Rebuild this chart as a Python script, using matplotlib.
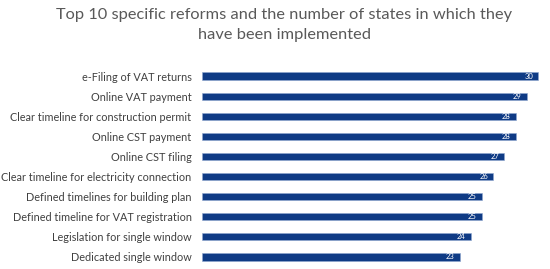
import matplotlib
matplotlib.use("Agg")
import matplotlib.pyplot as plt

categories = [
    "e-Filing of VAT returns",
    "Online VAT payment",
    "Clear timeline for construction permit",
    "Online CST payment",
    "Online CST filing",
    "Clear timeline for electricity connection",
    "Defined timelines for building plan",
    "Defined timeline for VAT registration",
    "Legislation for single window",
    "Dedicated single window",
]
values = [30, 29, 28, 28, 27, 26, 25, 25, 24, 23]
title = "Top 10 specific reforms and the number of states in which they\nhave been implemented"

W, H = 550, 269
fig = plt.figure(figsize=(W / 100, H / 100), dpi=100)
ax = fig.add_axes([202 / W, 2 / H, (W - 202) / W, (269 - 66 - 2) / H])

n = len(categories)
ypos = list(range(n))[::-1]
bar_color = "#0F3B85"
ax.barh(ypos, values, height=0.36, color=bar_color, edgecolor="#8FA8D0", linewidth=0.4)
ax.set_xlim(0, 31.07)
ax.set_ylim(-0.5, n - 0.5)
ax.set_yticks(ypos)
ax.set_yticklabels(categories, fontsize=7.85, color="#404040", family="Lato")
ax.tick_params(axis="y", length=0, pad=7.5)
ax.set_xticks([])
for s in ax.spines.values():
    s.set_visible(False)

for y, v in zip(ypos, values):
    ax.text(v - 0.45, y, str(v), ha="right", va="center", color="white",
            fontsize=5.5, family="Lato")

fig.text(284 / W, 1 - 8 / H, title, ha="center", va="top", fontsize=11.75,
         color="#595959", family="Lato", linespacing=1.55)

fig.savefig("out.png", dpi=100)
